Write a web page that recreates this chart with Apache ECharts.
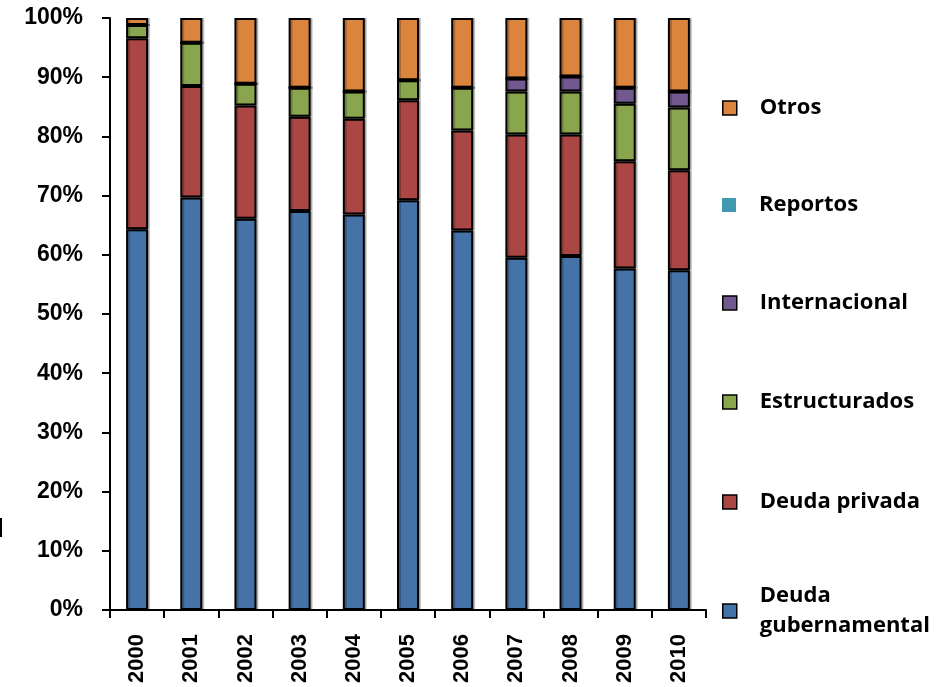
<!DOCTYPE html>
<html>
<head>
<meta charset="utf-8">
<script src="https://cdn.jsdelivr.net/npm/echarts@6/dist/echarts.min.js"></script>
<style>html,body{margin:0;padding:0;background:#fff;}#c{width:946px;height:687px;}</style>
</head>
<body>
<div id="c"></div>
<script>
var years = ['2000','2001','2002','2003','2004','2005','2006','2007','2008','2009','2010'];
var deudaGubernamental = [64.3, 69.7, 66.1, 67.4, 66.8, 69.2, 64.1, 59.5, 59.8, 57.7, 57.4];
var deudaPrivada = [32.3, 18.8, 19.1, 15.9, 16.2, 16.9, 16.9, 20.8, 20.5, 18.1, 16.9];
var estructurados = [2.2, 7.3, 3.7, 4.9, 4.6, 3.4, 7.2, 7.3, 7.3, 9.7, 10.6];
var internacional = [0, 0, 0, 0, 0, 0, 0, 2.2, 2.5, 2.7, 2.7];
var reportos = [0, 0, 0, 0, 0, 0, 0, 0, 0, 0, 0];
var otros = [1.2, 4.2, 11.1, 11.8, 12.4, 10.5, 11.8, 10.2, 9.9, 11.8, 12.4];
var seriesNames = ['Deuda gubernamental', 'Deuda privada', 'Estructurados', 'Internacional', 'Reportos', 'Otros'];
var seriesData = [deudaGubernamental, deudaPrivada, estructurados, internacional, reportos, otros];
var colors = ['#4572A7', '#AA4643', '#89A54E', '#71588F', '#4198AF', '#DB843D'];
var legendLabels = {'Deuda gubernamental': 'Deuda\ngubernamental'};

var chart = echarts.init(document.getElementById('c'), null, {renderer: 'canvas'});

var series = seriesNames.map(function (n, i) {
  return {
    name: n,
    type: 'bar',
    stack: 'total',
    barWidth: 22,
    data: seriesData[i],
    itemStyle: {color: colors[i], borderColor: '#000', borderWidth: 2,
      shadowColor: 'rgba(0,0,0,0.22)', shadowOffsetX: 2, shadowBlur: 0},
    emphasis: {disabled: true}
  };
});

var legendCenters = {'Otros': 108, 'Reportos': 205, 'Internacional': 303, 'Estructurados': 402, 'Deuda privada': 502, 'Deuda gubernamental': 611};
var legends = seriesNames.slice().reverse().map(function (n) {
  var twoLine = n === 'Deuda gubernamental';
  var h = twoLine ? 60 : 30;
  return {
    data: [n],
    orient: 'vertical',
    left: 722,
    top: legendCenters[n] - h / 2,
    itemWidth: 14,
    itemHeight: 14,
    itemGap: 0,
    icon: 'rect',
    selectedMode: false,
    padding: 0,
    itemStyle: n === 'Reportos' ? {borderWidth: 0, shadowBlur: 0, shadowOffsetX: 0} : {borderColor: '#000', borderWidth: 1.5, shadowBlur: 0, shadowOffsetX: 0},
    formatter: function (name) { return legendLabels[name] || name; },
    textStyle: {fontFamily: 'Open Sans', fontWeight: 'bold', fontSize: 22, color: '#000', lineHeight: 30, padding: [0, 0, 0, 18]}
  };
});

chart.setOption({
  animation: false,
  backgroundColor: '#fff',
  legend: legends,
  grid: {left: 110, right: 240, top: 18, bottom: 77, containLabel: false},
  xAxis: {
    type: 'category',
    data: years,
    boundaryGap: true,
    axisLine: {lineStyle: {color: '#000', width: 2}},
    axisTick: {show: true, alignWithLabel: false, length: 8, lineStyle: {color: '#000', width: 2}},
    axisLabel: {rotate: 90, margin: 24, color: '#000', fontFamily: 'Liberation Sans', fontWeight: 'bold', fontSize: 22}
  },
  yAxis: {
    type: 'value',
    min: 0,
    max: 100,
    interval: 10,
    splitLine: {show: false},
    axisLine: {show: true, lineStyle: {color: '#000', width: 2}},
    axisTick: {show: true, length: 8, lineStyle: {color: '#000', width: 2}},
    axisLabel: {formatter: '{value}%', margin: 27, color: '#000', fontFamily: 'Liberation Sans', fontWeight: 'bold', fontSize: 23}
  },
  graphic: [{type: 'rect', left: 0, top: 518, shape: {width: 2, height: 19}, style: {fill: '#000'}}],
  series: series
});
</script>
</body>
</html>
